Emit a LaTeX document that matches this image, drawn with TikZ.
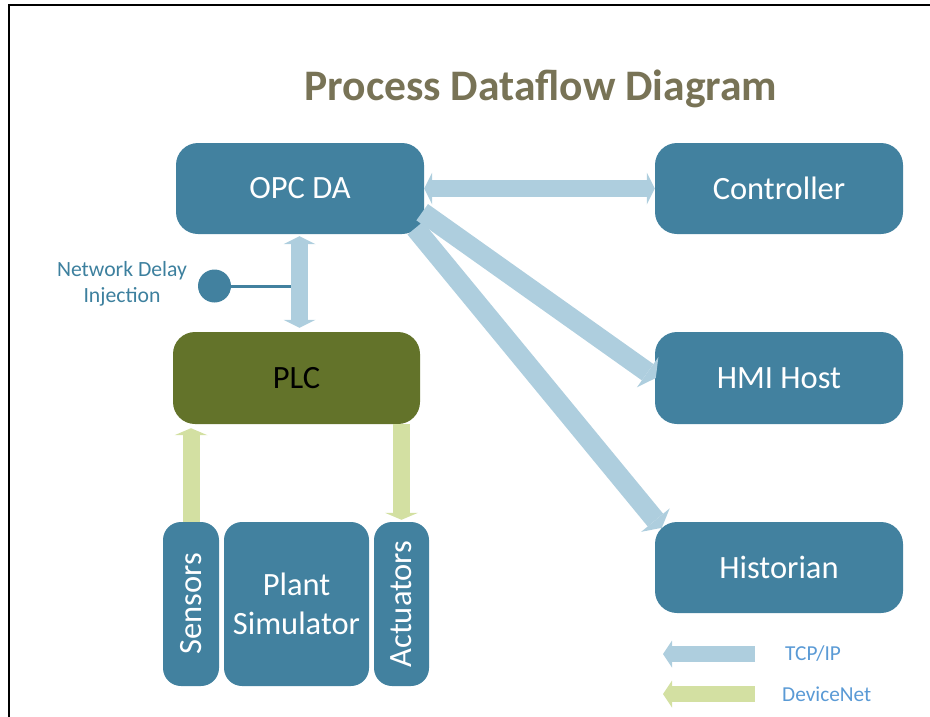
\documentclass[tikz,border=0pt]{standalone}
\usepackage{fontspec}
\setmainfont{Carlito}
\usetikzlibrary{arrows.meta,calc}
\definecolor{boxblue}{HTML}{42819F}
\definecolor{tcpc}{HTML}{AECEDE}
\definecolor{dnetc}{HTML}{D3E0A2}
\definecolor{plcc}{HTML}{63732A}
\definecolor{titlec}{HTML}{787356}
\definecolor{ndc}{HTML}{3D809E}
\definecolor{legc}{HTML}{5A9AD5}
\tikzset{
  bigbox/.style={fill=boxblue, rounded corners=22pt, minimum width=248pt, minimum height=91pt, inner sep=0pt,
    text=white, font=\fontsize{32.5}{39}\selectfont},
  smallbox/.style={fill=boxblue, rounded corners=18pt, minimum height=164pt, inner sep=0pt,
    text=white, font=\fontsize{32.5}{39}\selectfont, align=center},
  boxtext/.style={text=white, font=\fontsize{32.5}{39}\selectfont},
  tcpdouble/.style={draw=tcpc, line width=17pt,
    {Triangle[length=8pt,width=32pt,line width=0pt]}-{Triangle[length=8pt,width=32pt,line width=0pt]}},
  tcpsingle/.style={draw=tcpc, line width=20pt, -{Triangle[length=10pt,width=37pt,line width=0pt]}},
  dnetarrow/.style={draw=dnetc, line width=17pt, -{Triangle[length=7pt,width=33pt,line width=0pt]}},
  legtcp/.style={draw=tcpc, line width=16pt, -{Triangle[length=9pt,width=27pt,line width=0pt]}},
  legdnet/.style={draw=dnetc, line width=16pt, -{Triangle[length=9pt,width=27pt,line width=0pt]}},
  smalltext/.style={text=ndc, font=\fontsize{21.7}{26.5}\selectfont, align=center},
  legtext/.style={text=legc, font=\fontsize{21.3}{26}\selectfont, anchor=west, inner sep=0pt},
}
\begin{document}
\begin{tikzpicture}[x=1pt,y=-1pt]
\useasboundingbox (0,0) rectangle (930,716);
% frame
\draw[line width=2.5pt, line cap=rect] (9,716) -- (9,5) -- (930,5);
% title
\node[text=titlec, font=\fontsize{43.6}{50}\selectfont\bfseries] (title) at (541,89) {Process Dataflow Diagram};
% boxes
\node[bigbox] (opc) at (300,188.5) {OPC DA};
\node[bigbox] (ctrl) at (779,188.5) {Controller};
\node[bigbox, minimum height=92pt] (hmi) at (779,378) {HMI Host};
\node[bigbox] (hist) at (779,567.5) {Historian};
\node[bigbox, fill=plcc, text=black, minimum width=247pt, minimum height=92pt] (plc) at (296.5,378) {PLC};
\node[smallbox, minimum width=56pt] (sens) at (191,604) {};
\node[boxtext, rotate=90] (senst) at (sens) {Sensors};
\node[smallbox, minimum width=145pt] (plant) at (296.5,604) {Plant\\Simulator};
\node[smallbox, minimum width=55pt] (act) at (401.5,604) {};
\node[boxtext, rotate=90] (actt) at (act) {Actuators};
% network delay injection
\node[circle, fill=boxblue, minimum size=33pt, inner sep=0pt] (nd) at (214.5,286) {};
\coordinate (ndend) at (291,286);
\draw[draw=boxblue, line width=3pt] (nd.east) -- (ndend);
\node[smalltext] (ndt) at (122,284) {Network Delay\\Injection};
% TCP/IP arrows
\draw[tcpdouble] (opc.east) -- (ctrl.west);
\coordinate (v1) at ($(opc.south)+(-0.5,2)$);
\coordinate (v2) at ($(plc.north)+(3,-4)$);
\draw[tcpdouble] (v1) -- (v2);
\coordinate (h1) at ($(opc.south east)+(-2,-22)$);
\draw[tcpsingle] (h1) -- ($(hmi.west)+(1,0)$);
\coordinate (s1) at ($(opc.south east)+(-9,-6)$);
\coordinate (s2) at ($(hist.north west)+(7,6)$);
\draw[tcpsingle] (s1) -- (s2);
% DeviceNet arrows
\coordinate (d1) at ($(plc.south -| sens.north)+(0,4)$);
\draw[dnetarrow] (sens.north) -- (d1);
\coordinate (d2) at ($(plc.south -| act.north)$);
\coordinate (d3) at ($(act.north)+(0,-2)$);
\draw[dnetarrow] (d2) -- (d3);
% legend
\coordinate (l1s) at (755,654);
\coordinate (l1e) at (663,654);
\draw[legtcp] (l1s) -- (l1e);
\node[legtext] (l1t) at (785,654) {TCP/IP};
\coordinate (l2s) at (755,694);
\coordinate (l2e) at (663,694);
\draw[legdnet] (l2s) -- (l2e);
\node[legtext] (l2t) at (782,694) {DeviceNet};
\end{tikzpicture}
\end{document}
